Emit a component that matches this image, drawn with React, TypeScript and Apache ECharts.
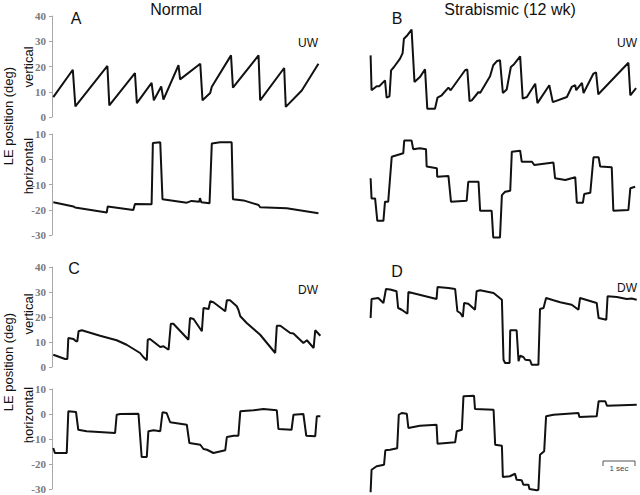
import React, { useEffect, useRef } from "react";
import * as echarts from "echarts";

// time (s) , position (deg)
const normalUWVertical: [number, number][] = [
  [0.04, 7.9], [0.65, 18.7], [0.73, 4.2], [1.73, 20.2], [1.79, 4.6], [2.59, 17.4], [2.65, 5.5],
  [3.11, 13.5], [3.18, 6.6], [3.41, 12.1], [3.48, 6.9], [3.95, 20.5], [4.0, 14.9], [4.63, 21.1],
  [4.7, 6.6], [4.94, 9.5], [4.99, 12.0], [5.59, 24.4], [5.65, 11.6], [6.45, 24.4], [6.5, 6.6],
  [7.25, 19.4], [7.3, 4.0], [7.8, 10.5], [8.32, 21.1],
];
const normalUWHorizontal: [number, number][] = [
  [0.04, -17.0], [0.67, -18.7], [0.72, -19.1], [1.71, -21.1], [1.74, -18.7], [2.54, -20.1],
  [2.59, -17.7], [3.11, -17.8], [3.15, 6.4], [3.38, 6.7], [3.45, -15.8], [4.21, -17.2],
  [4.36, -16.5], [4.6, -16.8], [4.62, -15.4], [4.66, -17.0], [4.92, -17.4], [4.99, 6.2],
  [5.25, 6.7], [5.61, 6.7], [5.65, -15.8], [5.98, -16.3], [6.45, -18.1], [6.5, -19.0],
  [7.33, -19.4], [8.32, -21.4],
];
const strabUWVertical: [number, number][] = [
  [0.05, 24.4], [0.08, 10.6], [0.24, 12.2], [0.32, 12.2], [0.5, 14.5], [0.55, 7.7], [0.64, 8.2],
  [0.69, 18.5], [0.78, 19.8], [0.97, 23.1], [1.05, 25.3], [1.09, 31.0], [1.2, 32.4], [1.33, 34.6],
  [1.42, 13.9], [1.59, 15.8], [1.75, 18.9], [1.82, 3.3], [2.06, 3.3], [2.14, 7.7], [2.27, 8.6],
  [2.48, 11.6], [2.55, 10.6], [3.0, 18.5], [3.07, 18.8], [3.14, 6.3], [3.21, 6.6], [3.42, 9.9],
  [3.47, 9.5], [3.78, 16.1], [3.88, 20.5], [4.0, 22.2], [4.09, 22.5], [4.18, 9.5], [4.3, 10.9],
  [4.43, 19.8], [4.53, 20.9], [4.72, 24.0], [4.8, 7.3], [4.93, 7.9], [5.19, 13.2], [5.26, 5.5],
  [5.63, 12.6], [5.74, 5.9], [6.18, 7.9], [6.33, 11.9], [6.44, 12.6], [6.47, 10.6], [6.65, 13.5],
  [6.7, 9.5], [7.01, 17.2], [7.09, 17.7], [7.16, 9.0], [7.34, 11.4], [8.1, 21.5], [8.16, 8.6],
  [8.34, 11.4],
];
const strabUWHorizontal: [number, number][] = [
  [0.05, -7.5], [0.08, -15.5], [0.19, -15.5], [0.26, -24.4], [0.45, -24.4], [0.5, -16.8],
  [0.6, -16.8], [0.71, 1.0], [1.07, 2.4], [1.1, 7.4], [1.33, 7.4], [1.38, 4.0], [1.59, 4.4],
  [1.78, 4.0], [1.8, -2.9], [2.12, -3.6], [2.13, -6.9], [2.48, -6.6], [2.56, -16.8], [3.05, -16.4],
  [3.1, -8.9], [3.42, -8.9], [3.47, -20.4], [3.83, -20.4], [3.88, -31.0], [4.09, -31.0],
  [4.15, -14.2], [4.25, -12.9], [4.41, -12.5], [4.46, 3.0], [4.72, 3.4], [4.77, -1.0], [5.09, -1.0],
  [5.16, -2.3], [5.76, -1.3], [5.81, -7.5], [6.13, -8.2], [6.44, -7.1], [6.49, -17.2], [6.68, -17.2],
  [6.72, -13.8], [6.91, -13.3], [7.01, 0.8], [7.17, 0.8], [7.22, -2.9], [7.58, -3.2], [7.63, -20.4],
  [8.1, -20.1], [8.16, -11.5], [8.31, -10.9],
];
const normalDWVertical: [number, number][] = [
  [0.04, 4.9], [0.41, 3.2], [0.48, 3.2], [0.51, 11.6], [0.67, 11.2], [0.75, 10.3], [0.79, 10.3],
  [0.83, 14.3], [0.93, 14.7], [1.5, 12.5], [2.02, 10.7], [2.33, 8.9], [2.75, 5.6], [2.85, 4.0],
  [2.96, 2.7], [2.99, 10.9], [3.06, 11.2], [3.38, 8.0], [3.48, 8.3], [3.64, 6.9], [3.71, 17.3],
  [3.79, 17.3], [4.26, 10.9], [4.31, 19.6], [4.42, 19.2], [4.68, 14.3], [4.73, 23.6], [4.89, 23.2],
  [4.94, 26.3], [5.04, 25.9], [5.41, 22.3], [5.46, 26.7], [5.56, 26.7], [5.77, 24.3], [5.82, 22.9],
  [5.88, 20.3], [6.08, 17.6], [6.5, 12.9], [6.97, 5.6], [7.02, 16.5], [7.13, 16.5], [7.44, 13.6],
  [7.54, 13.4], [7.85, 9.6], [7.96, 10.7], [8.17, 7.6], [8.22, 14.7], [8.38, 12.5],
];
const normalDWHorizontal: [number, number][] = [
  [0.04, -13.6], [0.09, -15.6], [0.46, -15.6], [0.51, 1.1], [0.75, 0.8], [0.82, -6.3], [1.08, -6.9],
  [1.97, -7.6], [2.02, -0.3], [2.13, 0], [2.7, 0.1], [2.8, -17.2], [2.96, -17.2], [3.01, -6.9],
  [3.17, -6.5], [3.38, -6.9], [3.45, 0.7], [3.58, 0.4], [3.69, -3.3], [4.21, -4.3], [4.29, -11.6],
  [4.63, -12.3], [4.73, -14.0], [4.84, -14.3], [5.04, -15.6], [5.41, -14.5], [5.46, -9.2],
  [5.67, -8.7], [5.82, -8.7], [5.88, 1.1], [6.29, 1.5], [6.6, 2.0], [7.02, 1.5], [7.07, -6.0],
  [7.48, -6.3], [7.54, -0.3], [7.85, 0], [7.94, -8.7], [8.22, -8.9], [8.27, -0.9], [8.38, -0.9],
];
const strabDWVertical: [number, number][] = [
  [0.05, 19.6], [0.08, 27.2], [0.29, 27.6], [0.45, 25.6], [0.53, 31.2], [0.66, 31.0], [0.86, 30.3],
  [0.91, 23.6], [1.02, 22.9], [1.2, 21.3], [1.23, 30.0], [2.11, 27.2], [2.14, 32.0], [2.48, 31.6],
  [2.69, 31.2], [2.76, 22.3], [2.85, 21.6], [2.93, 20.0], [2.97, 25.6], [3.1, 25.3], [3.31, 22.9],
  [3.36, 30.3], [3.47, 30.7], [3.89, 29.6], [4.15, 26.9], [4.2, 2.9], [4.25, 1.6], [4.39, 1.6],
  [4.41, 14.7], [4.61, 14.7], [4.67, 2.3], [4.72, 4.5], [4.82, 4.0], [4.88, 2.9], [5.03, 2.7],
  [5.08, 0.9], [5.29, 0.9], [5.34, 23.2], [5.45, 23.6], [5.53, 27.6], [5.76, 26.7], [5.97, 25.9],
  [6.33, 24.9], [6.54, 22.9], [6.59, 27.6], [7.11, 25.6], [7.17, 19.6], [7.41, 18.9], [7.45, 28.3],
  [7.74, 28.0], [8.05, 27.2], [8.2, 27.4], [8.36, 26.9],
];
const strabDWHorizontal: [number, number][] = [
  [0.05, -31.3], [0.08, -22.3], [0.24, -20.9], [0.47, -20.3], [0.51, -14.5], [0.66, -14.3],
  [0.88, -13.7], [0.93, -0.3], [1.02, 0.4], [1.18, 0.1], [1.23, -5.6], [1.59, -4.7], [2.11, -4.3],
  [2.14, -11.9], [2.69, -11.3], [2.74, -6.9], [2.9, -6.3], [2.95, 7.1], [3.28, 7.3], [3.31, 2.0],
  [3.89, 1.7], [3.94, -12.3], [4.15, -12.7], [4.18, -25.2], [4.4, -24.9], [4.56, -23.9],
  [4.61, -26.3], [4.77, -26.5], [4.82, -28.3], [4.98, -28.3], [5.01, -30.0], [5.24, -30.5],
  [5.29, -30.3], [5.34, -16.3], [5.47, -14.9], [5.53, -0.9], [5.76, -0.3], [6.54, 0.4],
  [6.57, -1.2], [7.11, -0.9], [7.17, 5.1], [7.38, 5.1], [7.43, 3.3], [8.36, 3.7],
];

const verticalTicks = [0, 10, 20, 30, 40];
const horizontalTicks = [-30, -20, -10, 0, 10];
const timeRange = [0, 8.4];

const sans = "'Liberation Sans', Arial, sans-serif";
const serif = "'Liberation Serif', 'Times New Roman', serif";

export default function App() {
  const ref = useRef<HTMLDivElement>(null);
  useEffect(() => {
    document.body.style.margin = "0";
    if (!ref.current) return;
    const chart = echarts.init(ref.current, undefined, { renderer: "svg" });

    const rows = [
      { top: 16, height: 101, ticks: verticalTicks },
      { top: 134, height: 101, ticks: horizontalTicks },
      { top: 267, height: 100, ticks: verticalTicks },
      { top: 389, height: 100, ticks: horizontalTicks },
    ];
    const cols = [52, 369];
    const traces = [
      normalUWVertical, strabUWVertical,
      normalUWHorizontal, strabUWHorizontal,
      normalDWVertical, strabDWVertical,
      normalDWHorizontal, strabDWHorizontal,
    ];
    const grid: any[] = [];
    const xAxis: any[] = [];
    const yAxis: any[] = [];
    const series: any[] = [];
    rows.forEach((r, ri) => {
      cols.forEach((c, ci) => {
        const idx = ri * 2 + ci;
        grid.push({ left: c, top: r.top, width: 269, height: r.height });
        xAxis.push({ type: "value", gridIndex: idx, min: timeRange[0], max: timeRange[1], show: false });
        yAxis.push({
          type: "value",
          gridIndex: idx,
          min: r.ticks[0],
          max: r.ticks[r.ticks.length - 1],
          interval: 10,
          show: ci === 0,
          splitLine: { show: false },
          axisLine: { show: true, lineStyle: { color: "#a8a8a8", width: 1 } },
          axisTick: { show: true, length: 3, lineStyle: { color: "#a8a8a8" } },
          axisLabel: {
            margin: 6,
            fontFamily: serif,
            fontWeight: "bold",
            fontSize: 11,
            color: "#7a7a7a",
          },
        });
        series.push({
          type: "line",
          xAxisIndex: idx,
          yAxisIndex: idx,
          data: traces[idx],
          showSymbol: false,
          clip: false,
          lineStyle: { color: "#111", width: 2 },
        });
      });
    });

    const txt = (text: string, x: number, y: number, size: number, extra: any = {}) => ({
      type: "text",
      x,
      y,
      ...extra,
      style: {
        text,
        fontSize: size,
        fontFamily: sans,
        fill: "#111",
        align: "center",
        verticalAlign: "middle",
      },
    });

    const graphic: any[] = [
      txt("Normal", 176, 9, 16),
      txt("Strabismic (12 wk)", 510, 9, 16),
      txt("A", 76, 18, 16),
      txt("B", 397, 18, 16),
      txt("C", 74, 268, 16),
      txt("D", 397, 271, 16),
      txt("UW", 308, 43, 12),
      txt("UW", 627, 43, 12),
      txt("DW", 308, 290, 12),
      txt("DW", 627, 288, 12),
      txt("LE position (deg)", 8, 116, 13, { rotation: Math.PI / 2 }),
      txt("LE position (deg)", 8, 362, 13, { rotation: Math.PI / 2 }),
      txt("vertical", 28, 67, 13, { rotation: Math.PI / 2 }),
      txt("horizontal", 28, 166, 13, { rotation: Math.PI / 2 }),
      txt("vertical", 28, 314, 13, { rotation: Math.PI / 2 }),
      txt("horizontal", 28, 415, 13, { rotation: Math.PI / 2 }),
      {
        type: "polyline",
        shape: { points: [[603, 466], [603, 461], [635, 461], [635, 466]] },
        style: { stroke: "#555", fill: null, lineWidth: 1 },
      },
      {
        type: "text",
        x: 619,
        y: 468,
        style: { text: "1 sec", fontSize: 8, fontFamily: sans, fill: "#444", align: "center", verticalAlign: "middle" },
      },
    ];

    chart.setOption({
      animation: false,
      backgroundColor: "#fff",
      grid,
      xAxis,
      yAxis,
      series,
      graphic,
    });
    return () => chart.dispose();
  }, []);
  return <div ref={ref} style={{ width: 640, height: 495 }} />;
}
